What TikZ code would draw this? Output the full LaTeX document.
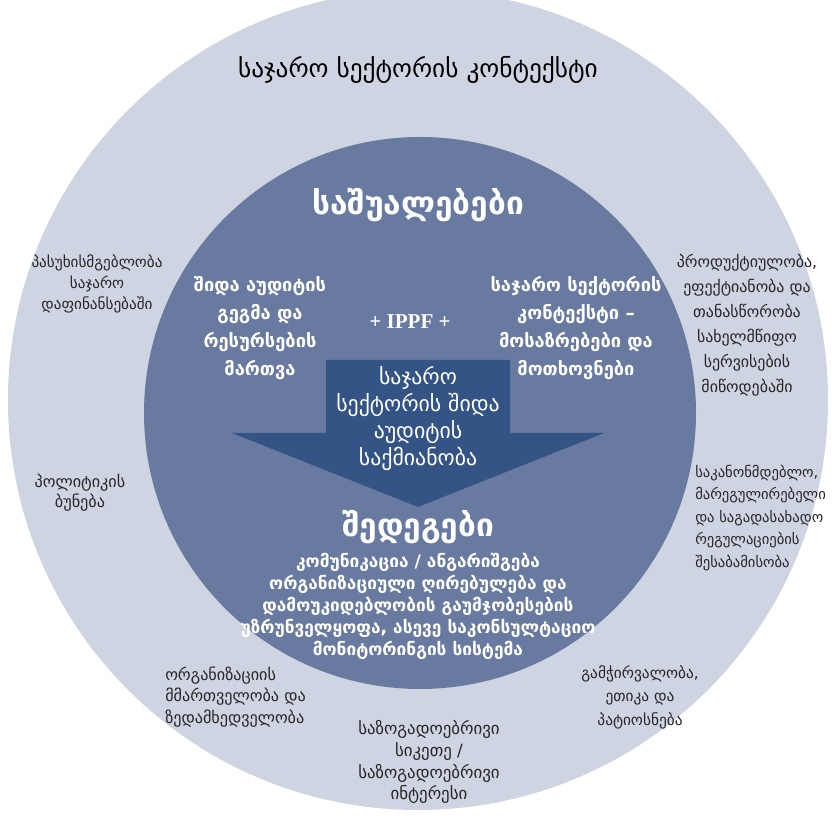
\documentclass[tikz,border=0pt]{standalone}
\usepackage{fontspec}
\setmainfont{DejaVu Sans}
\newfontfamily\ippffont{Liberation Serif}
\definecolor{ringgray}{RGB}{206,212,225}
\definecolor{coreblue}{RGB}{104,122,160}
\definecolor{arrowblue}{RGB}{52,84,133}
\tikzset{
  outertext/.style={align=center,text=black!85,font=\fontsize{11}{15}\selectfont},
  innertext/.style={align=center,text=white,font=\bfseries\fontsize{13}{20}\selectfont},
  arrowtext/.style={align=center,text=white,font=\fontsize{15.5}{19.2}\selectfont},
  resulttext/.style={align=center,text=white,font=\bfseries\fontsize{12.3}{15.6}\selectfont},
  headtext/.style={text=white,font=\bfseries\fontsize{22.5}{26}\selectfont}
}
\begin{document}
\begin{tikzpicture}
  \useasboundingbox (0,0) rectangle (20.8,20.45);
  \clip (0,0) rectangle (20.8,20.45);
  \fill[white] (0,0) rectangle (20.8,20.45);
  % rings
  \fill[ringgray] (10.45,10.45) circle (10.25);
  \fill[coreblue] (10.5,10.125) circle (6.9);
  % arrow
  \fill[arrowblue] (8.15,11.45) -- (12.75,11.45) -- (12.75,9.625) -- (15.1,9.625)
    -- (10.45,7.775) -- (5.8,9.625) -- (8.15,9.625) -- cycle;
  % texts
  \node (context) at (10.45,18.7) {\fontsize{18}{22}\selectfont საჯარო სექტორის კონტექსტი};
  \node[headtext] (means) at (10.45,15.325) {საშუალებები};
  \node[innertext] (plan) at (6.5,12.25) {შიდა აუდიტის\\გეგმა და\\რესურსების\\მართვა};
  \node[text=white,font=\ippffont\bfseries\fontsize{15}{18}\selectfont] (ippf) at (10.25,12.4) {+ IPPF +};
  \node[innertext] (needs) at (14.4,12.25) {საჯარო სექტორის\\კონტექსტი –\\მოსაზრებები და\\მოთხოვნები};
  \node[arrowtext] (activity) at (10.45,9.975) {საჯარო\\სექტორის შიდა\\აუდიტის\\საქმიანობა};
  \node[headtext] (results) at (10.45,7.275) {შედეგები};
  \node[resulttext] (outcomes) at (10.45,5.3) {კომუნიკაცია / ანგარიშგება\\ორგანიზაციული ღირებულება და\\დამოუკიდებლობის გაუმჯობესების\\უზრუნველყოფა, ასევე საკონსულტაციო\\მონიტორინგის სისტემა};
  \node[outertext,font=\fontsize{10.8}{15}\selectfont] (finance) at (2.425,13.35) {პასუხისმგებლობა\\საჯარო\\დაფინანსებაში};
  \node[outertext,font=\fontsize{11.3}{17.8}\selectfont] (equity) at (18.675,12.3125) {პროდუქტიულობა,\\ეფექტიანობა და\\თანასწორობა\\სახელმწიფო\\სერვისების\\მიწოდებაში};
  \node[outertext,font=\fontsize{11.5}{14.2}\selectfont] (policy) at (2.0,8.125) {პოლიტიკის\\ბუნება};
  \node[outertext,align=left,anchor=west,inner sep=0pt,font=\fontsize{10.4}{16}\selectfont] (legal) at (17.375,7.5) {საკანონმდებლო,\\მარეგულირებელი\\და საგადასახადო\\რეგულაციების\\შესაბამისობა};
  \node[outertext,align=left,anchor=west,inner sep=0pt,font=\fontsize{11.5}{15.3}\selectfont] (governance) at (4.125,3.025) {ორგანიზაციის\\მმართველობა და\\ზედამხედველობა};
  \node[outertext,font=\fontsize{10.9}{16.7}\selectfont] (ethics) at (16.0,3.025) {გამჭირვალობა,\\ეთიკა და\\პატიოსნება};
  \node[outertext,font=\fontsize{12}{15.6}\selectfont] (publicgood) at (10.725,1.4) {საზოგადოებრივი\\სიკეთე /\\საზოგადოებრივი\\ინტერესი};
\end{tikzpicture}
\end{document}
